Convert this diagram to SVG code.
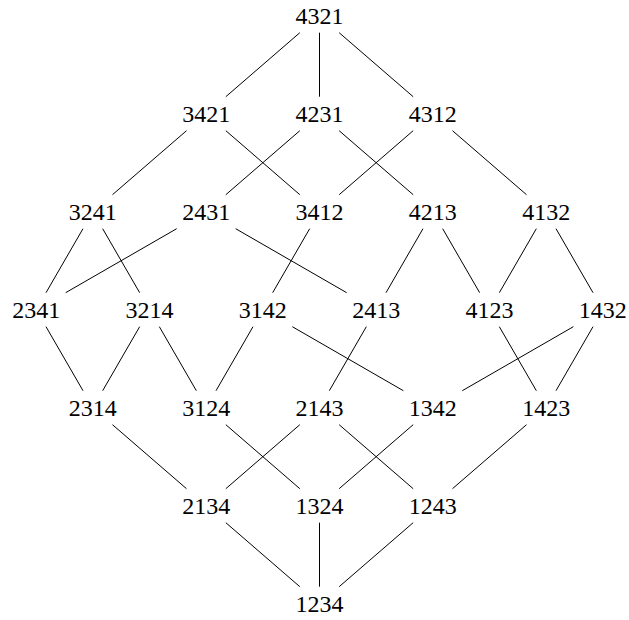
<svg xmlns="http://www.w3.org/2000/svg" width="629" height="620" viewBox="0 0 629 620">
<style>
text{font-family:"Liberation Serif","Times New Roman",serif;font-size:24px;text-anchor:middle;fill:#000}
.e line{stroke:#000;stroke-width:1;fill:none}
</style>
<rect width="629" height="620" fill="#fff"/>
<g id="connectors" class="e">
<line x1="299.84" y1="32.7" x2="225.83" y2="96.7"/>
<line x1="319.5" y1="32.7" x2="319.5" y2="96.7"/>
<line x1="339.16" y1="32.7" x2="413.17" y2="96.7"/>
<line x1="186.51" y1="130.7" x2="112.49" y2="194.7"/>
<line x1="225.83" y1="130.7" x2="299.84" y2="194.7"/>
<line x1="299.84" y1="130.7" x2="225.83" y2="194.7"/>
<line x1="339.16" y1="130.7" x2="413.17" y2="194.7"/>
<line x1="413.17" y1="130.7" x2="339.16" y2="194.7"/>
<line x1="452.49" y1="130.7" x2="526.51" y2="194.7"/>
<line x1="83.0" y1="228.7" x2="46.0" y2="292.7"/>
<line x1="102.66" y1="228.7" x2="139.67" y2="292.7"/>
<line x1="176.68" y1="228.7" x2="65.66" y2="292.7"/>
<line x1="235.66" y1="228.7" x2="346.68" y2="292.7"/>
<line x1="309.67" y1="228.7" x2="272.66" y2="292.7"/>
<line x1="423.0" y1="228.7" x2="386.0" y2="292.7"/>
<line x1="442.66" y1="228.7" x2="479.67" y2="292.7"/>
<line x1="536.34" y1="228.7" x2="499.33" y2="292.7"/>
<line x1="556.0" y1="228.7" x2="593.0" y2="292.7"/>
<line x1="46.0" y1="326.7" x2="83.0" y2="390.7"/>
<line x1="139.67" y1="326.7" x2="102.66" y2="390.7"/>
<line x1="159.33" y1="326.7" x2="196.34" y2="390.7"/>
<line x1="253.0" y1="326.7" x2="216.0" y2="390.7"/>
<line x1="292.32" y1="326.7" x2="403.34" y2="390.7"/>
<line x1="366.34" y1="326.7" x2="329.33" y2="390.7"/>
<line x1="499.33" y1="326.7" x2="536.34" y2="390.7"/>
<line x1="573.34" y1="326.7" x2="462.32" y2="390.7"/>
<line x1="593.0" y1="326.7" x2="556.0" y2="390.7"/>
<line x1="112.49" y1="424.7" x2="186.51" y2="488.7"/>
<line x1="225.83" y1="424.7" x2="299.84" y2="488.7"/>
<line x1="299.84" y1="424.7" x2="225.83" y2="488.7"/>
<line x1="339.16" y1="424.7" x2="413.17" y2="488.7"/>
<line x1="413.17" y1="424.7" x2="339.16" y2="488.7"/>
<line x1="526.51" y1="424.7" x2="452.49" y2="488.7"/>
<line x1="225.83" y1="522.7" x2="299.84" y2="586.7"/>
<line x1="319.5" y1="522.7" x2="319.5" y2="586.7"/>
<line x1="413.17" y1="522.7" x2="339.16" y2="586.7"/>
</g>
<g id="n4321"><text x="319.5" y="24">4321</text></g>
<g id="n3421"><text x="206.17" y="122">3421</text></g>
<g id="n4231"><text x="319.5" y="122">4231</text></g>
<g id="n4312"><text x="432.83" y="122">4312</text></g>
<g id="n3241"><text x="92.83" y="220">3241</text></g>
<g id="n2431"><text x="206.17" y="220">2431</text></g>
<g id="n3412"><text x="319.5" y="220">3412</text></g>
<g id="n4213"><text x="432.83" y="220">4213</text></g>
<g id="n4132"><text x="546.17" y="220">4132</text></g>
<g id="n2341"><text x="36.17" y="318">2341</text></g>
<g id="n3214"><text x="149.5" y="318">3214</text></g>
<g id="n3142"><text x="262.83" y="318">3142</text></g>
<g id="n2413"><text x="376.17" y="318">2413</text></g>
<g id="n4123"><text x="489.5" y="318">4123</text></g>
<g id="n1432"><text x="602.83" y="318">1432</text></g>
<g id="n2314"><text x="92.83" y="416">2314</text></g>
<g id="n3124"><text x="206.17" y="416">3124</text></g>
<g id="n2143"><text x="319.5" y="416">2143</text></g>
<g id="n1342"><text x="432.83" y="416">1342</text></g>
<g id="n1423"><text x="546.17" y="416">1423</text></g>
<g id="n2134"><text x="206.17" y="514">2134</text></g>
<g id="n1324"><text x="319.5" y="514">1324</text></g>
<g id="n1243"><text x="432.83" y="514">1243</text></g>
<g id="n1234"><text x="319.5" y="612">1234</text></g>
</svg>
